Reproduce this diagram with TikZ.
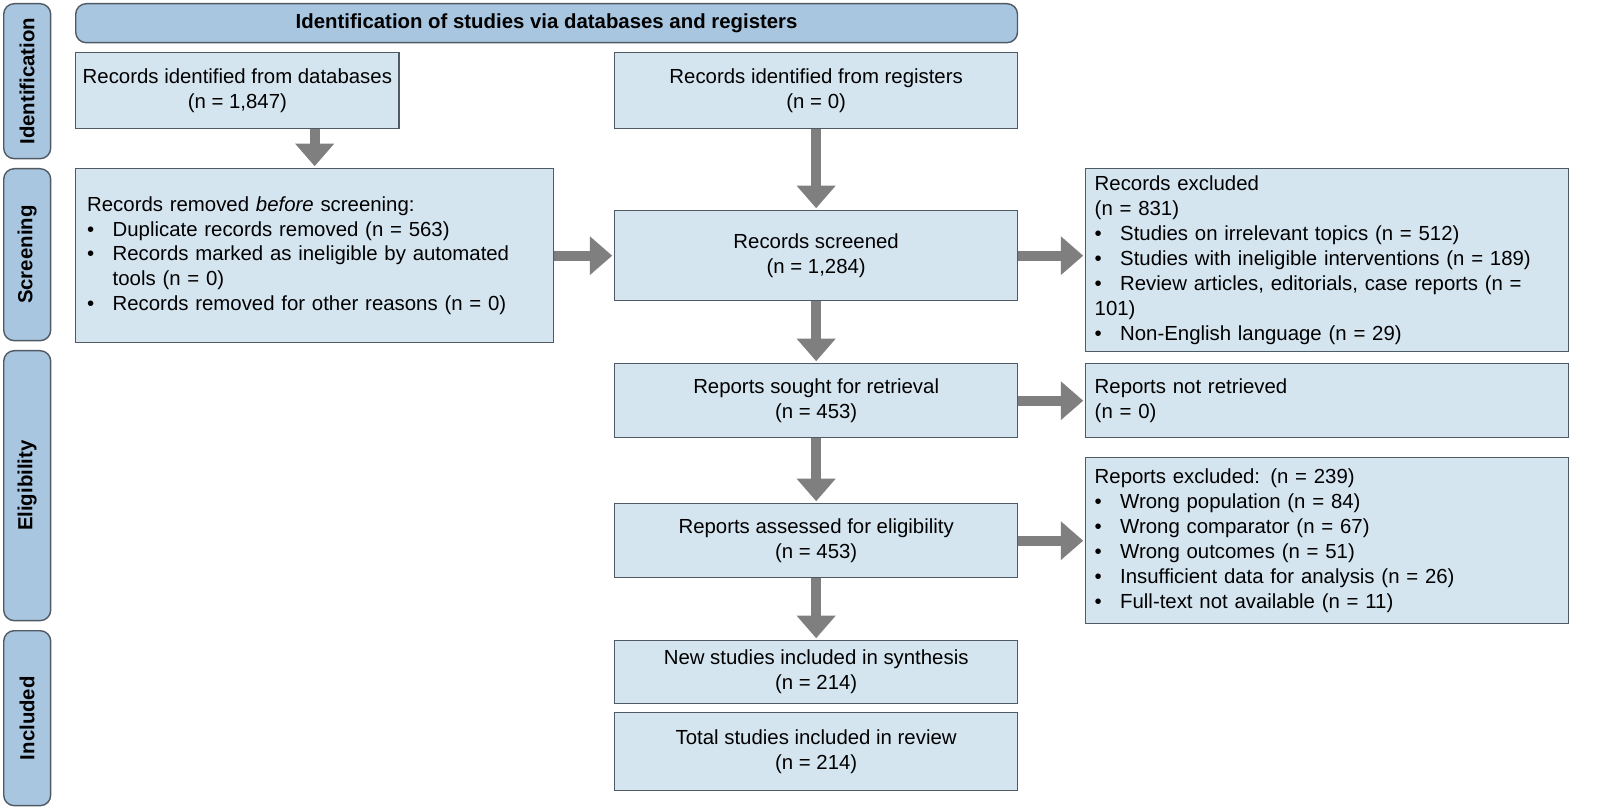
\documentclass[tikz,border=0pt]{standalone}
\usepackage{fontspec}
\setmainfont{Liberation Sans}
\usetikzlibrary{arrows.meta}

\definecolor{boxfill}{HTML}{D5E5F0}
\definecolor{barfill}{HTML}{A9C6E0}
\definecolor{edge}{HTML}{505A64}
\definecolor{arrowgray}{HTML}{7F7F7F}

\tikzset{
  box/.style={rectangle, draw=edge, line width=0.8pt, fill=boxfill, anchor=north west,
    inner sep=4pt, font=\fontsize{11.6}{14.2}\selectfont},
  phase/.style={rectangle, rounded corners=6pt, draw=edge, line width=0.8pt, fill=barfill,
    anchor=north west, font=\bfseries\fontsize{11.6}{14.2}\selectfont},
  arr/.style={draw=arrowgray, line width=0.2cm, -{Triangle[length=0.45cm, width=0.75cm]}, shorten >=1pt}
}

\begin{document}
\begin{tikzpicture}[x=0.02cm, y=0.02cm]

\useasboundingbox (0,0) rectangle (1606,-810);

\node [phase, minimum width=18.84cm, minimum height=0.78cm] (title) at (75,-3)
  {Identification of studies via databases and registers};

\node [phase, minimum width=0.94cm, minimum height=3.1cm] (ident) at (3,-3) {};
\node [rotate=90] at (ident.center) {\bfseries\fontsize{11.6}{14}\selectfont Identification};
\node [phase, minimum width=0.94cm, minimum height=3.44cm] (screen) at (3,-168) {};
\node [rotate=90] at (screen.center) {\bfseries\fontsize{11.6}{14}\selectfont Screening};
\node [phase, minimum width=0.94cm, minimum height=5.4cm] (elig) at (3,-350) {};
\node [rotate=90] at (elig.center) {\bfseries\fontsize{11.6}{14}\selectfont Eligibility};
\node [phase, minimum width=0.94cm, minimum height=3.5cm] (incl) at (3,-630) {};
\node [rotate=90] at (incl.center) {\bfseries\fontsize{11.6}{14}\selectfont Included};

\node [box, minimum width=6.26cm, minimum height=1.52cm, align=center] (dbs) at (75,-52)
  {Records identified from databases\\(n = 1,847)};
\node [box, minimum width=8.06cm, minimum height=1.52cm, align=center] (regs) at (614,-52)
  {Records identified from registers\\(n = 0)};

\node [box, minimum width=9.56cm, minimum height=3.48cm, text width=9.1cm, align=left] (removed) at (75,-168)
  {Records removed \textit{before} screening:\\
   \textbullet\hspace{0.9em}Duplicate records removed (n = 563)\\
   \textbullet\hspace{0.9em}Records marked as ineligible by automated\\
   \hspace{1.25em}tools (n = 0)\\
   \textbullet\hspace{0.9em}Records removed for other reasons (n = 0)};

\node [box, minimum width=8.06cm, minimum height=1.8cm, align=center] (screened) at (614,-210)
  {Records screened\\(n = 1,284)};

\node [box, minimum width=9.66cm, minimum height=3.48cm, text width=9.3cm, align=left] (excl) at (1085,-168)
  {Records excluded\\(n = 831)\\
   \textbullet\hspace{0.9em}Studies on irrelevant topics (n = 512)\\
   \textbullet\hspace{0.9em}Studies with ineligible interventions (n = 189)\\
   \textbullet\hspace{0.9em}Review articles, editorials, case reports (n = 101)\\
   \textbullet\hspace{0.9em}Non-English language (n = 29)};

\node [box, minimum width=8.06cm, minimum height=1.48cm, align=center] (sought) at (614,-363)
  {Reports sought for retrieval\\(n = 453)};
\node [box, minimum width=9.66cm, minimum height=1.48cm, text width=9.3cm, align=left] (notret) at (1085,-363)
  {Reports not retrieved\\(n = 0)};

\node [box, minimum width=8.06cm, minimum height=1.48cm, align=center] (assessed) at (614,-503)
  {Reports assessed for eligibility\\(n = 453)};
\node [box, minimum width=9.66cm, minimum height=3.32cm, text width=9.3cm, align=left] (repexcl) at (1085,-457)
  {Reports excluded: (n = 239)\\
   \textbullet\hspace{0.9em}Wrong population (n = 84)\\
   \textbullet\hspace{0.9em}Wrong comparator (n = 67)\\
   \textbullet\hspace{0.9em}Wrong outcomes (n = 51)\\
   \textbullet\hspace{0.9em}Insufficient data for analysis (n = 26)\\
   \textbullet\hspace{0.9em}Full-text not available (n = 11)};

\node [box, minimum width=8.06cm, minimum height=1.26cm, align=center] (newinc) at (614,-640)
  {New studies included in synthesis\\(n = 214)};
\node [box, minimum width=8.06cm, minimum height=1.56cm, align=center] (total) at (614,-712)
  {Total studies included in review\\(n = 214)};

\draw [arr] (removed.north |- dbs.south) -- (removed.north);
\draw [arr] (regs.south) -- (screened.north);
\draw [arr] (removed.east |- screened.west) -- (screened.west);
\draw [arr] (screened.east) -- (excl.west |- screened.east);
\draw [arr] (screened.south) -- (sought.north);
\draw [arr] (sought.east) -- (notret.west);
\draw [arr] (sought.south) -- (assessed.north);
\draw [arr] (assessed.east) -- (repexcl.west |- assessed.east);
\draw [arr] (assessed.south) -- (newinc.north);

\end{tikzpicture}
\end{document}
